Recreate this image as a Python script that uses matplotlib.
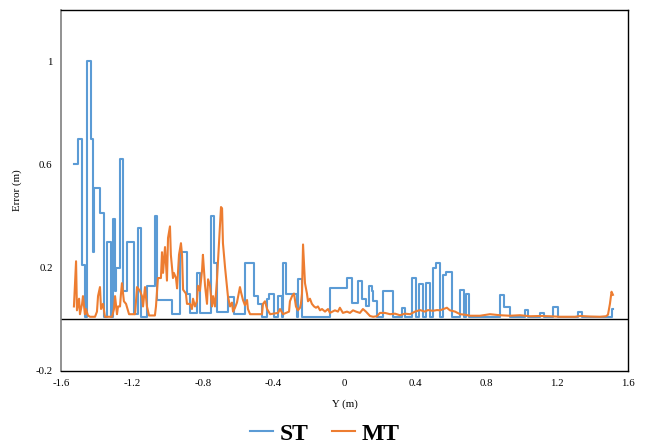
import matplotlib
matplotlib.use("Agg")
import matplotlib.pyplot as plt

# ---- data ----
st_x = [-1.527, -1.504, -1.481, -1.465, -1.453, -1.431, -1.419, -1.412, -1.380, -1.357,
        -1.340, -1.318, -1.307, -1.295, -1.290, -1.267, -1.250, -1.228, -1.188, -1.165,
        -1.149, -1.115, -1.070, -1.058, -0.974, -0.928, -0.889, -0.872, -0.833, -0.816,
        -0.754, -0.737, -0.720, -0.658, -0.624, -0.562, -0.511, -0.488, -0.466, -0.437,
        -0.426, -0.398, -0.375, -0.353, -0.347, -0.330, -0.268, -0.263, -0.240, -0.080,
        0.014, 0.042, 0.076, 0.099, 0.121, 0.138, 0.155, 0.161, 0.183, 0.217,
        0.274, 0.324, 0.341, 0.381, 0.403, 0.420, 0.443, 0.460, 0.482, 0.499,
        0.516, 0.539, 0.556, 0.573, 0.607, 0.652, 0.674, 0.686, 0.702, 0.877,
        0.900, 0.934, 1.019, 1.036, 1.103, 1.126, 1.177, 1.205, 1.318, 1.340,
        1.507, 1.515]
st_y = [0.60, 0.70, 0.21, 0.01, 1.00, 0.70, 0.26, 0.51, 0.41, 0.01,
        0.30, 0.01, 0.39, 0.11, 0.20, 0.62, 0.11, 0.30, 0.02, 0.355,
        0.01, 0.13, 0.40, 0.075, 0.02, 0.26, 0.10, 0.025, 0.18, 0.025,
        0.40, 0.22, 0.03, 0.088, 0.02, 0.22, 0.09, 0.06, 0.01, 0.08,
        0.10, 0.01, 0.09, 0.01, 0.22, 0.10, 0.01, 0.155, 0.01, 0.12,
        0.16, 0.065, 0.15, 0.08, 0.05, 0.13, 0.11, 0.07, 0.01, 0.11,
        0.01, 0.045, 0.01, 0.16, 0.01, 0.135, 0.01, 0.14, 0.01, 0.20,
        0.22, 0.01, 0.17, 0.185, 0.01, 0.115, 0.01, 0.10, 0.01, 0.095,
        0.048, 0.01, 0.037, 0.01, 0.025, 0.01, 0.048, 0.01, 0.03, 0.01,
        0.04, 0.04]

mt_x = [-1.527, -1.515, -1.510, -1.498, -1.493, -1.481, -1.476, -1.465, -1.459, -1.448,
        -1.436, -1.408, -1.397, -1.391, -1.380, -1.374, -1.363, -1.352, -1.312, -1.301,
        -1.295, -1.284, -1.278, -1.267, -1.262, -1.256, -1.245, -1.233, -1.216, -1.182,
        -1.171, -1.154, -1.143, -1.137, -1.126, -1.115, -1.103, -1.070, -1.064, -1.053,
        -1.036, -1.030, -1.024, -1.013, -1.002, -0.996, -0.985, -0.980, -0.968, -0.963,
        -0.951, -0.945, -0.934, -0.923, -0.917, -0.911, -0.895, -0.889, -0.872, -0.861,
        -0.855, -0.844, -0.833, -0.827, -0.816, -0.804, -0.799, -0.787, -0.776, -0.770,
        -0.759, -0.748, -0.742, -0.731, -0.720, -0.708, -0.697, -0.691, -0.686, -0.674,
        -0.663, -0.658, -0.646, -0.635, -0.629, -0.618, -0.607, -0.590, -0.584, -0.573,
        -0.562, -0.550, -0.545, -0.533, -0.466, -0.460, -0.449, -0.437, -0.420, -0.375,
        -0.364, -0.347, -0.313, -0.308, -0.296, -0.285, -0.274, -0.263, -0.251, -0.246,
        -0.240, -0.234, -0.223, -0.212, -0.206, -0.195, -0.184, -0.172, -0.161, -0.150,
        -0.138, -0.127, -0.110, -0.093, -0.082, -0.054, -0.037, -0.026, -0.009, 0.014,
        0.031, 0.048, 0.065, 0.087, 0.104, 0.121, 0.144, 0.161, 0.183, 0.200,
        0.228, 0.257, 0.285, 0.313, 0.341, 0.370, 0.398, 0.426, 0.454, 0.471,
        0.499, 0.522, 0.539, 0.578, 0.595, 0.624, 0.652, 0.680, 0.708, 0.765,
        0.821, 0.877, 0.934, 0.990, 1.047, 1.103, 1.160, 1.216, 1.301, 1.329,
        1.385, 1.442, 1.476, 1.487, 1.498, 1.507, 1.515]
mt_y = [0.05, 0.225, 0.035, 0.08, 0.02, 0.06, 0.09, 0.02, 0.04, 0.015,
        0.01, 0.01, 0.03, 0.09, 0.125, 0.04, 0.06, 0.01, 0.01, 0.04,
        0.09, 0.02, 0.05, 0.05, 0.095, 0.14, 0.07, 0.06, 0.02, 0.02,
        0.125, 0.11, 0.09, 0.05, 0.125, 0.05, 0.015, 0.015, 0.05, 0.16,
        0.16, 0.26, 0.18, 0.28, 0.15, 0.315, 0.36, 0.25, 0.16, 0.18,
        0.16, 0.12, 0.25, 0.295, 0.25, 0.115, 0.10, 0.06, 0.06, 0.04,
        0.08, 0.05, 0.07, 0.13, 0.11, 0.19, 0.25, 0.13, 0.06, 0.155,
        0.13, 0.05, 0.09, 0.05, 0.15, 0.30, 0.435, 0.43, 0.295, 0.20,
        0.125, 0.09, 0.05, 0.065, 0.03, 0.045, 0.065, 0.125, 0.105, 0.075,
        0.055, 0.075, 0.04, 0.02, 0.02, 0.06, 0.07, 0.04, 0.02, 0.025,
        0.04, 0.02, 0.03, 0.07, 0.09, 0.10, 0.05, 0.035, 0.045, 0.06,
        0.10, 0.29, 0.14, 0.10, 0.07, 0.08, 0.06, 0.05, 0.045, 0.05,
        0.035, 0.04, 0.03, 0.04, 0.025, 0.035, 0.03, 0.045, 0.025, 0.03,
        0.025, 0.035, 0.03, 0.025, 0.04, 0.03, 0.013, 0.01, 0.012, 0.025,
        0.025, 0.02, 0.022, 0.016, 0.022, 0.02, 0.03, 0.036, 0.03, 0.036,
        0.033, 0.036, 0.035, 0.045, 0.035, 0.03, 0.02, 0.018, 0.014, 0.014,
        0.02, 0.016, 0.014, 0.016, 0.012, 0.013, 0.012, 0.01, 0.01, 0.013,
        0.011, 0.01, 0.012, 0.018, 0.06, 0.107, 0.095]

x_ticks = [-1.6, -1.2, -0.8, -0.4, 0, 0.4, 0.8, 1.2, 1.6]
x_tick_labels = ["-1.6", "-1.2", "-0.8", "-0.4", "0", "0.4", "0.8", "1.2", "1.6"]
y_ticks = [-0.2, 0.2, 0.6, 1.0]
y_tick_labels = ["-0.2", "0.2", "0.6", "1"]

BLUE = "#5B9BD5"
ORANGE = "#ED7D31"
serif = ["Liberation Serif", "DejaVu Serif"]

fig = plt.figure(figsize=(6.49, 4.45), dpi=100)
ax = fig.add_axes([61/649, 1-371/445, (628-61)/649, (371-9.5)/445])

ax.plot(st_x, st_y, drawstyle="steps-post", color=BLUE, lw=1.5, label="ST", zorder=3)
ax.plot(mt_x, mt_y, color=ORANGE, lw=1.5, label="MT", zorder=4)
ax.axhline(0, color="black", lw=1.0, zorder=2)

ax.set_xlim(-1.6, 1.6)
ax.set_ylim(-0.2, 1.2)
ax.set_xticks(x_ticks)
ax.set_xticklabels(x_tick_labels, fontfamily=serif, fontsize=7.8)
ax.set_yticks(y_ticks)
ax.set_yticklabels(y_tick_labels, fontfamily=serif, fontsize=7.8)
ax.tick_params(length=0, pad=6)

for side in ["top", "right", "bottom"]:
    ax.spines[side].set_color("black")
    ax.spines[side].set_linewidth(1.0)
ax.spines["left"].set_color("#7f7f7f")
ax.spines["left"].set_linewidth(1.2)

ax.set_xlabel("Y (m)", fontfamily=serif, fontsize=7.8, labelpad=8)
ax.set_ylabel("Error (m)", fontfamily=serif, fontsize=7.8, labelpad=10)

fig.legend(loc="center", bbox_to_anchor=(0.5, 1 - 434/445), ncol=2, frameon=False,
           handlelength=1.0, handletextpad=0.25, columnspacing=1.0,
           prop={"family": serif, "weight": "bold", "size": 17})

fig.savefig("out.png", dpi=100)
